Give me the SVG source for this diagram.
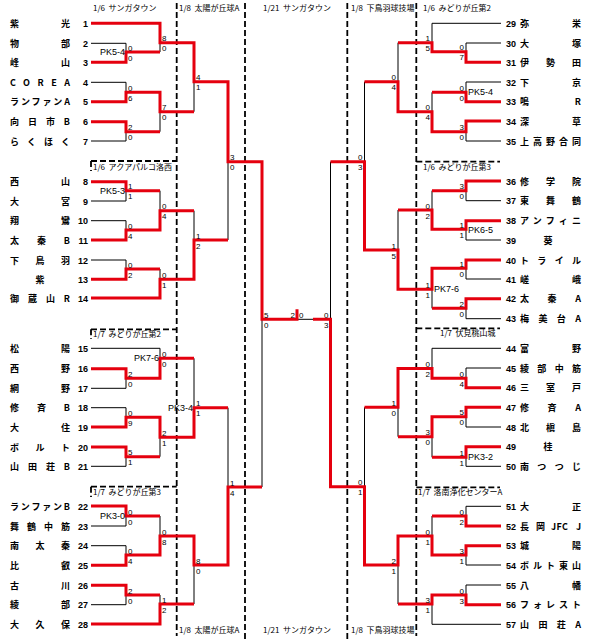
<svg xmlns="http://www.w3.org/2000/svg" width="612" height="643" viewBox="0 0 612 643">
<style>
.bg{fill:#fff}
.r{fill:none;stroke:#e5000e;stroke-width:3;stroke-linejoin:miter}
.k{fill:none;stroke:#000;stroke-width:1}
.d{fill:none;stroke:#000;stroke-width:1.8;stroke-dasharray:6 3}
.nm{font-family:"Noto Sans CJK JP","Liberation Sans",sans-serif;font-size:9px;font-weight:bold;fill:#000}
.no{font-family:"Liberation Sans",sans-serif;font-size:9px;font-weight:bold;fill:#000}
.nr{font-family:"Liberation Sans",sans-serif;font-size:9px;font-weight:bold;fill:#000}
.sc{font-family:"Liberation Sans",sans-serif;font-size:8px;fill:#000}
.se{font-family:"Liberation Sans",sans-serif;font-size:8px;fill:#000;text-anchor:end}
.pk{font-family:"Liberation Sans",sans-serif;font-size:9px;fill:#000}
.pe{font-family:"Liberation Sans",sans-serif;font-size:9px;fill:#000;text-anchor:end}
.hd{font-family:"Noto Sans CJK JP","Liberation Sans",sans-serif;font-size:8px;fill:#000;white-space:pre}
.no{text-anchor:end}
</style>
<rect class="bg" x="0" y="0" width="612" height="643"/>

<g id="headers">
<text class="hd" x="93" y="11">1/6  サンガタウン</text>
<text class="hd" x="179" y="11">1/8  太陽が丘球A</text>
<text class="hd" x="263" y="11">1/21  サンガタウン</text>
<text class="hd" x="351" y="11">1/8  下鳥羽球技場</text>
<text class="hd" x="423" y="11">1/6  みどりが丘第2</text>
<text class="hd" x="93" y="170">1/6  アクアパルコ洛西</text>
<text class="hd" x="93" y="337">1/7  みどりが丘第2</text>
<text class="hd" x="93" y="495">1/7  みどりが丘第3</text>
<text class="hd" x="423" y="170">1/6  みどりが丘第3</text>
<text class="hd" x="440" y="336">1/7  伏見桃山城</text>
<text class="hd" x="418" y="495">1/7  洛南浄化センターA</text>
<text class="hd" x="179" y="633">1/8  太陽が丘球A</text>
<text class="hd" x="263" y="633">1/21  サンガタウン</text>
<text class="hd" x="351" y="633">1/8  下鳥羽球技場</text>
</g>

<g id="dividers">
<path class="d" d="M176.7 3V636M245 3V640M347.3 3V640M416.3 3V636"/>
<path class="d" d="M91 161H176.7M91 329.3H176.7M91 486.7H176.7M91 161V171M91 329.3V339M91 486.7V497"/>
<path class="d" d="M416.3 161.7H500M416.3 328.3H500M416.3 487.3H500"/>
</g>

<g id="connectors">
<path class="k" d="M91 43.3H126V52M91 82.3H126V92.3M91 141H126V131.7M160 52V42.7M160 131.7V111.7M194 111.7V81.7
M91 201H126V190.7M91 220.7H126V230M91 260H126V269M160 190.7V210.7M160 269V279.3M194 210.7V240M228 240V161.7
M91 348.3H160V358.3M91 388.3H126V378.3M91 407.7H126V417.3M91 466.3H126V456.7M160 456.7V437.3M194 358.3V407.7M228 407.7V487
M91 526H126V516M91 545.7H126V555M91 604.7H126V595M160 516V536M160 595V604M194 604V565M262 487V319.3M297 319.3H313"/>
<path class="k" d="M501 23.3H432V42.7M501 43H466V51.7M501 82H466V92.3M501 141H466V131.7M432 92.3V111.7M398 42.7V81.7M364.5 81.7V161.7
M501 200.7H466V190.7M501 240H466V229.3M501 279H466V268.3M501 318.7H466V308.3M432 190.7V210M432 308.3V289.3M398 210V250M330.5 161.7V319.3
M501 348.3H432V368.5M501 368H466V378.3M501 427H466V416.7M501 466.3H466V457.3M432 457.3V436.7M398 436.7V407.3M364.5 407.3V486.7
M501 506.3H466V516M501 565H466V555M501 585H466V595M501 624.3H432V604M432 516V536M398 604V565"/>
<path class="r" d="M91 23.3H160V42.7H194V81.7H228V161.7H262V319.3H297V309.3"/>
<path class="r" d="M91 62.3H126V52H160"/>
<path class="r" d="M91 101.7H126V92.3H160V111.7H194"/>
<path class="r" d="M91 121.7H126V131.7H160"/>
<path class="r" d="M91 181.7H126V190.7H160"/>
<path class="r" d="M91 240H126V230H160V210.7H194"/>
<path class="r" d="M91 279.3H126V269H160"/>
<path class="r" d="M91 298H160V279.3H194V240H228"/>
<path class="r" d="M91 368.7H126V378.3H160V358.3H194"/>
<path class="r" d="M91 427H126V417.3H160V437.3H194V407.7H228"/>
<path class="r" d="M91 447H126V456.7H160"/>
<path class="r" d="M91 506H126V516H160"/>
<path class="r" d="M91 565.3H126V555H160V536H194V565H228V487H262"/>
<path class="r" d="M91 585.3H126V595H160"/>
<path class="r" d="M91 624H160V604H194"/>
<path class="r" d="M501 62.3H466V51.7H432V42.7H398"/>
<path class="r" d="M501 101.7H466V92.3H432"/>
<path class="r" d="M501 121H466V131.7H432V111.7H398V81.7H364.5"/>
<path class="r" d="M501 181H466V190.7H432"/>
<path class="r" d="M501 220.7H466V229.3H432V210H398"/>
<path class="r" d="M501 260H466V268.3H432V289.3H398V250H364.5V161.7H330.5"/>
<path class="r" d="M501 298.7H466V308.3H432"/>
<path class="r" d="M501 387.7H466V378.3H432V368.5H398V407.3H364.5"/>
<path class="r" d="M501 407.3H466V416.7H432V436.7H398"/>
<path class="r" d="M501 446.7H466V457.3H432"/>
<path class="r" d="M501 526H466V516H432"/>
<path class="r" d="M501 545.7H466V555H432V536H398V565H364.5V486.7H330.5V319.3H313"/>
<path class="r" d="M501 604.7H466V595H432V604H398"/>
</g>

<g id="scores">
<text class="sc" x="128" y="50.5">0</text><text class="sc" x="128" y="60.5">0</text>
<text class="sc" x="128" y="90.8">0</text><text class="sc" x="128" y="100.8">6</text>
<text class="sc" x="128" y="130.2">2</text><text class="sc" x="128" y="140.2">0</text>
<text class="sc" x="128" y="189.2">1</text><text class="sc" x="128" y="199.2">1</text>
<text class="sc" x="128" y="228.5">0</text><text class="sc" x="128" y="238.5">4</text>
<text class="sc" x="128" y="267.5">0</text><text class="sc" x="128" y="277.5">2</text>
<text class="sc" x="128" y="376.8">2</text><text class="sc" x="128" y="386.8">0</text>
<text class="sc" x="128" y="415.8">0</text><text class="sc" x="128" y="425.8">9</text>
<text class="sc" x="128" y="455.2">5</text><text class="sc" x="128" y="465.2">1</text>
<text class="sc" x="128" y="514.5">0</text><text class="sc" x="128" y="524.5">0</text>
<text class="sc" x="128" y="553.5">0</text><text class="sc" x="128" y="563.5">4</text>
<text class="sc" x="128" y="593.5">2</text><text class="sc" x="128" y="603.5">0</text>
<text class="sc" x="162" y="41.2">8</text><text class="sc" x="162" y="51.2">0</text>
<text class="sc" x="162" y="110.2">7</text><text class="sc" x="162" y="120.2">0</text>
<text class="sc" x="162" y="209.2">0</text><text class="sc" x="162" y="219.2">4</text>
<text class="sc" x="162" y="277.8">0</text><text class="sc" x="162" y="287.8">1</text>
<text class="sc" x="162" y="356.8">0</text><text class="sc" x="162" y="366.8">0</text>
<text class="sc" x="162" y="435.8">2</text><text class="sc" x="162" y="445.8">1</text>
<text class="sc" x="162" y="534.5">0</text><text class="sc" x="162" y="544.5">8</text>
<text class="sc" x="162" y="602.5">1</text><text class="sc" x="162" y="612.5">2</text>
<text class="sc" x="196" y="80.2">4</text><text class="sc" x="196" y="90.2">1</text>
<text class="sc" x="196" y="238.5">1</text><text class="sc" x="196" y="248.5">2</text>
<text class="sc" x="196" y="406.2">1</text><text class="sc" x="196" y="416.2">1</text>
<text class="sc" x="196" y="563.5">8</text><text class="sc" x="196" y="573.5">0</text>
<text class="sc" x="230" y="160.2">3</text><text class="sc" x="230" y="170.2">0</text>
<text class="sc" x="230" y="485.5">1</text><text class="sc" x="230" y="495.5">4</text>
<text class="sc" x="264" y="317.8">5</text><text class="sc" x="264" y="327.8">0</text>
<text class="se" x="295" y="317.8">2</text><text class="sc" x="299" y="317.8">0</text>
<text class="se" x="328.5" y="317.8">0</text><text class="se" x="328.5" y="327.8">3</text>
<text class="se" x="362.5" y="160.2">0</text><text class="se" x="362.5" y="170.2">3</text>
<text class="se" x="362.5" y="485.2">0</text><text class="se" x="362.5" y="495.2">1</text>
<text class="se" x="396" y="80.2">0</text><text class="se" x="396" y="90.2">4</text>
<text class="se" x="396" y="248.5">1</text><text class="se" x="396" y="258.5">5</text>
<text class="se" x="396" y="405.8">1</text><text class="se" x="396" y="415.8">0</text>
<text class="se" x="396" y="563.5">2</text><text class="se" x="396" y="573.5">1</text>
<text class="se" x="430" y="41.2">1</text><text class="se" x="430" y="51.2">5</text>
<text class="se" x="430" y="110.2">0</text><text class="se" x="430" y="120.2">4</text>
<text class="se" x="430" y="208.5">0</text><text class="se" x="430" y="218.5">2</text>
<text class="se" x="430" y="287.8">1</text><text class="se" x="430" y="297.8">1</text>
<text class="se" x="430" y="367">0</text><text class="se" x="430" y="377">2</text>
<text class="se" x="430" y="435.2">3</text><text class="se" x="430" y="445.2">0</text>
<text class="se" x="430" y="534.5">0</text><text class="se" x="430" y="544.5">1</text>
<text class="se" x="430" y="602.5">3</text><text class="se" x="430" y="612.5">1</text>
<text class="se" x="464" y="50.2">0</text><text class="se" x="464" y="60.2">7</text>
<text class="se" x="464" y="90.8">0</text><text class="se" x="464" y="100.8">0</text>
<text class="se" x="464" y="130.2">3</text><text class="se" x="464" y="140.2">0</text>
<text class="se" x="464" y="189.2">3</text><text class="se" x="464" y="199.2">0</text>
<text class="se" x="464" y="227.8">1</text><text class="se" x="464" y="237.8">1</text>
<text class="se" x="464" y="266.8">1</text><text class="se" x="464" y="276.8">0</text>
<text class="se" x="464" y="306.8">2</text><text class="se" x="464" y="316.8">0</text>
<text class="se" x="464" y="376.8">0</text><text class="se" x="464" y="386.8">4</text>
<text class="se" x="464" y="415.2">5</text><text class="se" x="464" y="425.2">0</text>
<text class="se" x="464" y="455.8">1</text><text class="se" x="464" y="465.8">1</text>
<text class="se" x="464" y="514.5">0</text><text class="se" x="464" y="524.5">2</text>
<text class="se" x="464" y="553.5">3</text><text class="se" x="464" y="563.5">1</text>
<text class="se" x="464" y="593.5">0</text><text class="se" x="464" y="603.5">3</text>
<text class="pe" x="125" y="55">PK5-4</text>
<text class="pe" x="125" y="193.5">PK5-3</text>
<text class="pe" x="159" y="361.3">PK7-6</text>
<text class="pe" x="193" y="410.6">PK3-4</text>
<text class="pe" x="125" y="519">PK3-0</text>
<text class="pk" x="468" y="95">PK5-4</text>
<text class="pk" x="468" y="233">PK6-5</text>
<text class="pk" x="434" y="291.5">PK7-6</text>
<text class="pk" x="468" y="460">PK3-2</text>
</g>

<g id="team1"><text class="nm" x="10" y="26.8" textLength="60" lengthAdjust="spacing">紫光</text><text class="no" x="88" y="26.8">1</text></g>
<g id="team2"><text class="nm" x="10" y="46.8" textLength="60" lengthAdjust="spacing">物部</text><text class="no" x="88" y="46.8">2</text></g>
<g id="team3"><text class="nm" x="10" y="65.8" textLength="60" lengthAdjust="spacing">峰山</text><text class="no" x="88" y="65.8">3</text></g>
<g id="team4"><text class="nm" x="10" y="85.8" textLength="60" lengthAdjust="spacing">COREA</text><text class="no" x="88" y="85.8">4</text></g>
<g id="team5"><text class="nm" x="10" y="105.2" textLength="60" lengthAdjust="spacing">ランファンA</text><text class="no" x="88" y="105.2">5</text></g>
<g id="team6"><text class="nm" x="10" y="125.2" textLength="60" lengthAdjust="spacing">向日市B</text><text class="no" x="88" y="125.2">6</text></g>
<g id="team7"><text class="nm" x="10" y="144.5" textLength="60" lengthAdjust="spacing">らくほく</text><text class="no" x="88" y="144.5">7</text></g>
<g id="team8"><text class="nm" x="10" y="185.2" textLength="60" lengthAdjust="spacing">西山</text><text class="no" x="88" y="185.2">8</text></g>
<g id="team9"><text class="nm" x="10" y="204.5" textLength="60" lengthAdjust="spacing">大宮</text><text class="no" x="88" y="204.5">9</text></g>
<g id="team10"><text class="nm" x="10" y="224.2" textLength="60" lengthAdjust="spacing">翔鸞</text><text class="no" x="88" y="224.2">10</text></g>
<g id="team11"><text class="nm" x="10" y="243.5" textLength="60" lengthAdjust="spacing">太秦B</text><text class="no" x="88" y="243.5">11</text></g>
<g id="team12"><text class="nm" x="10" y="263.5" textLength="60" lengthAdjust="spacing">下鳥羽</text><text class="no" x="88" y="263.5">12</text></g>
<g id="team13"><text class="nm" x="40" y="282.8" text-anchor="middle">紫</text><text class="no" x="88" y="282.8">13</text></g>
<g id="team14"><text class="nm" x="10" y="301.5" textLength="60" lengthAdjust="spacing">御蔵山R</text><text class="no" x="88" y="301.5">14</text></g>
<g id="team15"><text class="nm" x="10" y="351.8" textLength="60" lengthAdjust="spacing">松陽</text><text class="no" x="88" y="351.8">15</text></g>
<g id="team16"><text class="nm" x="10" y="372.2" textLength="60" lengthAdjust="spacing">西野</text><text class="no" x="88" y="372.2">16</text></g>
<g id="team17"><text class="nm" x="10" y="391.8" textLength="60" lengthAdjust="spacing">網野</text><text class="no" x="88" y="391.8">17</text></g>
<g id="team18"><text class="nm" x="10" y="411.2" textLength="60" lengthAdjust="spacing">修斉B</text><text class="no" x="88" y="411.2">18</text></g>
<g id="team19"><text class="nm" x="10" y="430.5" textLength="60" lengthAdjust="spacing">大住</text><text class="no" x="88" y="430.5">19</text></g>
<g id="team20"><text class="nm" x="10" y="450.5" textLength="60" lengthAdjust="spacing">ボルト</text><text class="no" x="88" y="450.5">20</text></g>
<g id="team21"><text class="nm" x="10" y="469.8" textLength="60" lengthAdjust="spacing">山田荘B</text><text class="no" x="88" y="469.8">21</text></g>
<g id="team22"><text class="nm" x="10" y="509.5" textLength="60" lengthAdjust="spacing">ランファンB</text><text class="no" x="88" y="509.5">22</text></g>
<g id="team23"><text class="nm" x="10" y="529.5" textLength="60" lengthAdjust="spacing">舞鶴中筋</text><text class="no" x="88" y="529.5">23</text></g>
<g id="team24"><text class="nm" x="10" y="549.2" textLength="60" lengthAdjust="spacing">南太秦</text><text class="no" x="88" y="549.2">24</text></g>
<g id="team25"><text class="nm" x="10" y="568.8" textLength="60" lengthAdjust="spacing">比叡</text><text class="no" x="88" y="568.8">25</text></g>
<g id="team26"><text class="nm" x="10" y="588.8" textLength="60" lengthAdjust="spacing">古川</text><text class="no" x="88" y="588.8">26</text></g>
<g id="team27"><text class="nm" x="10" y="608.2" textLength="60" lengthAdjust="spacing">綾部</text><text class="no" x="88" y="608.2">27</text></g>
<g id="team28"><text class="nm" x="10" y="627.5" textLength="60" lengthAdjust="spacing">大久保</text><text class="no" x="88" y="627.5">28</text></g>

<g id="team29"><text class="nr" x="506" y="26.8">29</text><text class="nm" x="520" y="26.8" textLength="61" lengthAdjust="spacing">弥栄</text></g>
<g id="team30"><text class="nr" x="506" y="46.5">30</text><text class="nm" x="520" y="46.5" textLength="61" lengthAdjust="spacing">大塚</text></g>
<g id="team31"><text class="nr" x="506" y="65.8">31</text><text class="nm" x="520" y="65.8" textLength="61" lengthAdjust="spacing">伊勢田</text></g>
<g id="team32"><text class="nr" x="506" y="85.5">32</text><text class="nm" x="520" y="85.5" textLength="61" lengthAdjust="spacing">下京</text></g>
<g id="team33"><text class="nr" x="506" y="105.2">33</text><text class="nm" x="520" y="105.2" textLength="61" lengthAdjust="spacing">鳴R</text></g>
<g id="team34"><text class="nr" x="506" y="124.5">34</text><text class="nm" x="520" y="124.5" textLength="61" lengthAdjust="spacing">深草</text></g>
<g id="team35"><text class="nr" x="506" y="144.5">35</text><text class="nm" x="520" y="144.5" textLength="61" lengthAdjust="spacing">上高野合同</text></g>
<g id="team36"><text class="nr" x="506" y="184.5">36</text><text class="nm" x="520" y="184.5" textLength="61" lengthAdjust="spacing">修学院</text></g>
<g id="team37"><text class="nr" x="506" y="204.2">37</text><text class="nm" x="520" y="204.2" textLength="61" lengthAdjust="spacing">東舞鶴</text></g>
<g id="team38"><text class="nr" x="506" y="224.2">38</text><text class="nm" x="520" y="224.2" textLength="61" lengthAdjust="spacing">アンフィニ</text></g>
<g id="team39"><text class="nr" x="506" y="243.5">39</text><text class="nm" x="548" y="243.5" text-anchor="middle">葵</text></g>
<g id="team40"><text class="nr" x="506" y="263.5">40</text><text class="nm" x="520" y="263.5" textLength="61" lengthAdjust="spacing">トライル</text></g>
<g id="team41"><text class="nr" x="506" y="282.5">41</text><text class="nm" x="520" y="282.5" textLength="61" lengthAdjust="spacing">嵯峨</text></g>
<g id="team42"><text class="nr" x="506" y="302.2">42</text><text class="nm" x="520" y="302.2" textLength="61" lengthAdjust="spacing">太秦A</text></g>
<g id="team43"><text class="nr" x="506" y="322.2">43</text><text class="nm" x="520" y="322.2" textLength="61" lengthAdjust="spacing">梅美台A</text></g>
<g id="team44"><text class="nr" x="506" y="351.8">44</text><text class="nm" x="520" y="351.8" textLength="61" lengthAdjust="spacing">富野</text></g>
<g id="team45"><text class="nr" x="506" y="371.5">45</text><text class="nm" x="520" y="371.5" textLength="61" lengthAdjust="spacing">綾部中筋</text></g>
<g id="team46"><text class="nr" x="506" y="391.2">46</text><text class="nm" x="520" y="391.2" textLength="61" lengthAdjust="spacing">三室戸</text></g>
<g id="team47"><text class="nr" x="506" y="410.8">47</text><text class="nm" x="520" y="410.8" textLength="61" lengthAdjust="spacing">修斉A</text></g>
<g id="team48"><text class="nr" x="506" y="430.5">48</text><text class="nm" x="520" y="430.5" textLength="61" lengthAdjust="spacing">北槇島</text></g>
<g id="team49"><text class="nr" x="506" y="450.2">49</text><text class="nm" x="548" y="450.2" text-anchor="middle">桂</text></g>
<g id="team50"><text class="nr" x="506" y="469.8">50</text><text class="nm" x="520" y="469.8" textLength="61" lengthAdjust="spacing">南つつじ</text></g>
<g id="team51"><text class="nr" x="506" y="509.8">51</text><text class="nm" x="520" y="509.8" textLength="61" lengthAdjust="spacing">大正</text></g>
<g id="team52"><text class="nr" x="506" y="529.5">52</text><text class="nm" x="520 536 551 556.5 562 576" y="529.5">長岡JFCJ</text></g>
<g id="team53"><text class="nr" x="506" y="549.2">53</text><text class="nm" x="520" y="549.2" textLength="61" lengthAdjust="spacing">城陽</text></g>
<g id="team54"><text class="nr" x="506" y="568.5">54</text><text class="nm" x="520" y="568.5" textLength="61" lengthAdjust="spacing">ボルト東山</text></g>
<g id="team55"><text class="nr" x="506" y="588.5">55</text><text class="nm" x="520" y="588.5" textLength="61" lengthAdjust="spacing">八幡</text></g>
<g id="team56"><text class="nr" x="506" y="608.2">56</text><text class="nm" x="520" y="608.2" textLength="61" lengthAdjust="spacing">フォレスト</text></g>
<g id="team57"><text class="nr" x="506" y="627.8">57</text><text class="nm" x="520" y="627.8" textLength="61" lengthAdjust="spacing">山田荘A</text></g>
</svg>
